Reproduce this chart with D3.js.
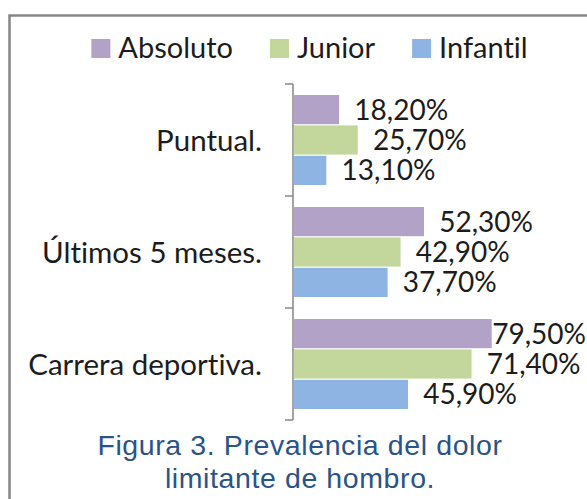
<!DOCTYPE html>
<html>
<head>
<meta charset="utf-8">
<script src="https://cdn.jsdelivr.net/npm/d3@7/dist/d3.min.js"></script>
<style>
    body { margin: 0; background: #fff; }
    svg text { font-family: Lato, "Open Sans", sans-serif; fill: #1c1c1c; font-variant-ligatures: none; }
</style>
</head>
<body>
<svg id="chart" width="587" height="499"></svg>
<script>
// chart data
let categories = ['Puntual.', 'Últimos 5 meses.', 'Carrera deportiva.'];
let seriesNames = ['Absoluto', 'Junior', 'Infantil'];
let absoluto = [18.2, 52.3, 79.5];
let junior = [25.7, 42.9, 71.4];
let infantil = [13.1, 37.7, 45.9];
let seriesColors = ['#B3A2C7', '#C3D69B', '#8EB4E3'];
let titleLines = ['Figura 3. Prevalencia del dolor', 'limitante de hombro.'];

let svg = d3.select('#chart');
let width = 587, height = 499;

// spanish number format, "18,20%"
let locale = d3.formatLocale({ decimal: ',', thousands: '.', grouping: [3], currency: ['', '€'] });
let fmt = v => locale.format('.2f')(v) + '%';

let rows = categories.map(function(c, i) {
    return { cat: c, values: [absoluto[i], junior[i], infantil[i]] };
});

// outer frame of the excel chart, runs off the right and bottom of the crop
svg.append('rect')
    .attr('x', 9.5).attr('y', 15.5)
    .attr('width', width + 20).attr('height', height + 20)
    .attr('fill', '#fff')
    .attr('stroke', '#878787')
    .attr('stroke-width', 2.5);

let x = d3.scaleLinear()
    .domain([0, 100])
    .range([293, 542]);

let y = d3.scaleBand()
    .domain(categories)
    .range([84, 420]);

let ySeries = d3.scaleBand()
    .domain(seriesNames)
    .range([11, 101])
    .paddingInner(0.04);

// category axis (left) with outside tick marks at band edges
let axisG = svg.append('g')
    .attr('transform', 'translate(' + x(0) + ',0)');
axisG.append('line')
    .attr('y1', y.range()[0]).attr('y2', y.range()[1])
    .attr('stroke', '#868686').attr('stroke-width', 1.5);
let edges = categories.map(c => y(c)).concat([y.range()[1]]);
axisG.selectAll('line.tick')
    .data(edges)
    .enter().append('line')
        .attr('class', 'tick')
        .attr('x1', -8).attr('x2', 0)
        .attr('y1', d => d).attr('y2', d => d)
        .attr('stroke', '#868686').attr('stroke-width', 1.5);

svg.append('g')
    .selectAll('text')
    .data(categories)
    .enter().append('text')
        .attr('x', 262)
        .attr('y', d => y(d) + y.bandwidth() / 2 + 10.5)
        .attr('text-anchor', 'end')
        .style('font-size', '29.5px')
        .text(d => d);

// bars
let groups = svg.append('g')
    .selectAll('g')
    .data(rows)
    .enter().append('g')
        .attr('transform', d => 'translate(0,' + y(d.cat) + ')');

groups.selectAll('rect')
    .data(d => d.values.map((v, i) => ({ name: seriesNames[i], value: v, color: seriesColors[i] })))
    .enter().append('rect')
        .attr('x', x(0) + 0.75)
        .attr('y', d => ySeries(d.name))
        .attr('width', d => x(d.value) - x(0))
        .attr('height', ySeries.bandwidth())
        .attr('fill', d => d.color);

// data labels; excel pulls a label back in when it would leave the chart
groups.selectAll('text')
    .data(d => d.values.map((v, i) => ({ name: seriesNames[i], value: v })))
    .enter().append('text')
        .attr('y', d => ySeries(d.name) + ySeries.bandwidth() / 2 + 10)
        .style('font-size', '28px')
        .text(d => fmt(d.value))
        .each(function(d) {
            let w = this.getComputedTextLength();
            let px = Math.min(x(d.value) + 16, width - w - 1);
            d3.select(this).attr('x', px);
        });

// legend, centred above the plot
let legend = svg.append('g');
let items = legend.selectAll('g')
    .data(seriesNames)
    .enter().append('g');
items.append('rect')
    .attr('y', 39)
    .attr('width', 19).attr('height', 19)
    .attr('fill', (d, i) => seriesColors[i]);
items.append('text')
    .attr('x', 27)
    .attr('y', 57.5)
    .style('font-size', '29px')
    .text(d => d);
let cursor = 0;
items.each(function() {
    let w = d3.select(this).select('text').node().getComputedTextLength();
    d3.select(this).attr('transform', 'translate(' + cursor + ',0)');
    cursor += 27 + w + 37;
});
let legendWidth = cursor - 37;
legend.attr('transform', 'translate(' + (309.5 - legendWidth / 2) + ',0)');

// caption
svg.append('g')
    .selectAll('text')
    .data(titleLines)
    .enter().append('text')
        .attr('x', 300)
        .attr('y', (d, i) => 455 + i * 33)
        .attr('text-anchor', 'middle')
        .style('font-family', '"Liberation Sans", Arial, sans-serif')
        .style('font-size', '28.5px')
        .style('letter-spacing', '0.6px')
        .style('fill', '#2A5388')
        .text(d => d);
</script>
</body>
</html>
